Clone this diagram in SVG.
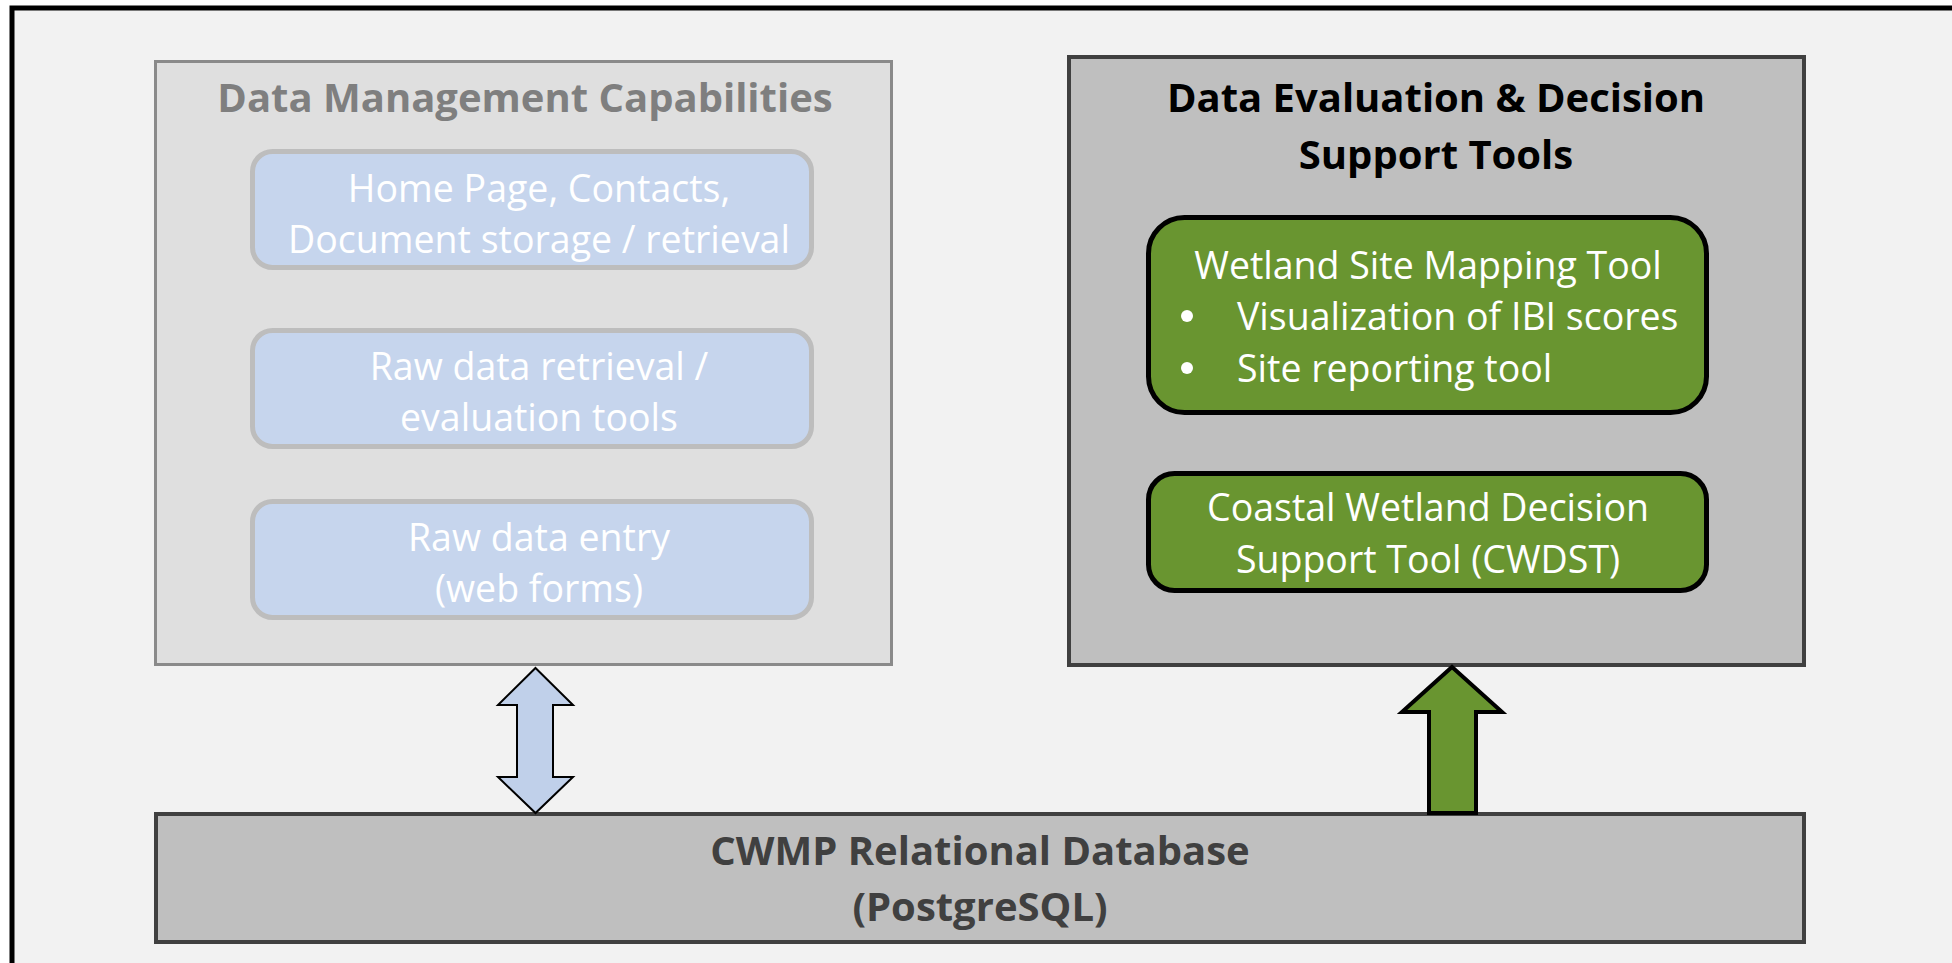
<svg xmlns="http://www.w3.org/2000/svg" width="1952" height="963" viewBox="0 0 1952 963">
<style>
.t{font-family:"Open Sans","Noto Sans","Liberation Sans",sans-serif;text-anchor:middle}
.b{font-weight:bold;font-size:40px}
.w{fill:#ffffff;font-size:37.5px}
.blue{fill:#c6d5ed;stroke:#bdbdbd;stroke-width:5}
.green{fill:#699530;stroke:#000000;stroke-width:5}
.panel{fill:#bfbfbf;stroke:#404040;stroke-width:4}
</style>
<rect x="0" y="0" width="1952" height="963" fill="#ffffff"/>
<rect id="frame" x="12" y="8" width="2000" height="1000" fill="#f2f2f2" stroke="#000000" stroke-width="5"/>
<g id="data-management">
<rect x="155.5" y="61.5" width="736" height="603" fill="#dfdfdf" stroke="#8a8a8a" stroke-width="3"/>
<text class="t b" x="525" y="112" fill="#7f7f7f">Data Management Capabilities</text>
</g>
<g id="home-page">
<rect class="blue" x="252.5" y="151.5" width="559" height="116" rx="20"/>
<text class="t w" x="539" y="202">Home Page, Contacts,</text>
<text class="t w" x="539" y="253">Document storage / retrieval</text>
</g>
<g id="raw-retrieval">
<rect class="blue" x="252.5" y="330.5" width="559" height="116" rx="20"/>
<text class="t w" x="539" y="380">Raw data retrieval /</text>
<text class="t w" x="539" y="431">evaluation tools</text>
</g>
<g id="raw-entry">
<rect class="blue" x="252.5" y="501.5" width="559" height="116" rx="20"/>
<text class="t w" x="539" y="551">Raw data entry</text>
<text class="t w" x="539" y="602">(web forms)</text>
</g>
<g id="data-evaluation">
<rect class="panel" x="1069" y="57" width="735" height="608"/>
<text class="t b" x="1436" y="112" fill="#000000">Data Evaluation &amp; Decision</text>
<text class="t b" x="1436" y="169" fill="#000000">Support Tools</text>
</g>
<g id="wetland-mapping">
<rect class="green" x="1148.5" y="217.5" width="558" height="195" rx="36"/>
<text class="t w" x="1428" y="279">Wetland Site Mapping Tool</text>
<circle cx="1187" cy="316" r="6" fill="#ffffff"/>
<circle cx="1187" cy="368" r="6" fill="#ffffff"/>
<text class="t w" x="1237" y="330" style="text-anchor:start">Visualization of IBI scores</text>
<text class="t w" x="1237" y="382" style="text-anchor:start">Site reporting tool</text>
</g>
<g id="cwdst">
<rect class="green" x="1148.5" y="473.5" width="558" height="117" rx="26"/>
<text class="t w" x="1428" y="521">Coastal Wetland Decision</text>
<text class="t w" x="1428" y="573">Support Tool (CWDST)</text>
</g>
<g id="database">
<rect class="panel" x="156" y="814" width="1648" height="128"/>
<text class="t b" x="980" y="865" fill="#404040">CWMP Relational Database</text>
<text class="t b" x="980" y="921" fill="#404040">(PostgreSQL)</text>
</g>
<g id="connectors">
<polygon points="535.5,668 573,705 553,705 553,777 573,777 535.5,813 498,777 517,777 517,705 498,705" fill="#c0d0ea" stroke="#000000" stroke-width="2" stroke-linejoin="miter"/>
<polygon points="1452,667 1502,712 1476,712 1476,813 1429,813 1429,712 1402,712" fill="#699530" stroke="#000000" stroke-width="4" stroke-linejoin="miter"/>
</g>
</svg>
